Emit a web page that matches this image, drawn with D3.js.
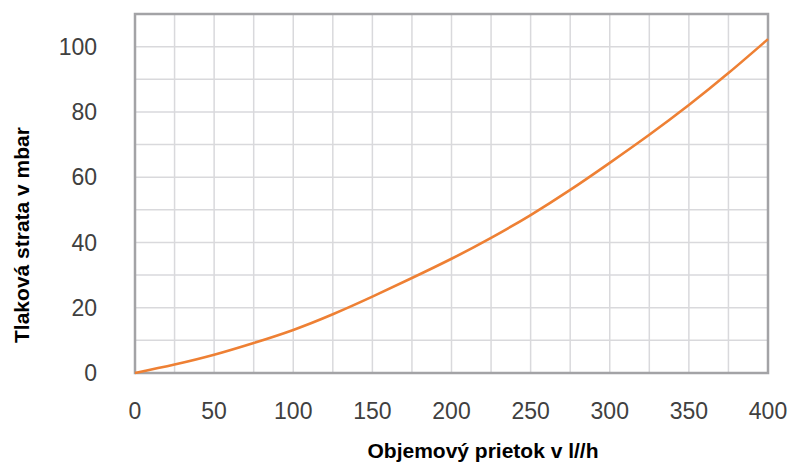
<!DOCTYPE html>
<html>
<head>
<meta charset="utf-8">
<script src="https://cdn.jsdelivr.net/npm/d3@7"></script>
<style>
	body { margin: 0; background: #fff; }
	svg { display: block; }
	.tick-label { font-family: "Liberation Sans", Arial, sans-serif; font-size: 23px; fill: #404040; }
	.axis-title { font-family: "Liberation Sans", Arial, sans-serif; font-size: 21px; font-weight: bold; fill: #000; }
</style>
</head>
<body>
<div id="chart"></div>
<script>
// flow (l/h) and pressure loss (mbar)
var flow = [0, 25, 50, 75, 100, 125, 150, 175, 200, 225, 250, 275, 300, 325, 350, 375, 400];
var loss = [0, 2.6, 5.6, 9.2, 13.2, 18.0, 23.4, 29.1, 35.0, 41.4, 48.4, 56.1, 64.4, 73.0, 82.1, 91.9, 102.3];
var xTicks = [0, 50, 100, 150, 200, 250, 300, 350, 400];
var yTicks = [0, 20, 40, 60, 80, 100];
var xGrid = d3.range(0, 401, 25);
var yGrid = d3.range(0, 111, 10);
var xTitle = "Objemový prietok v l//h";
var yTitle = "Tlaková strata v mbar";

var width = 793, height = 467;
var margin = {top: 14, right: 25, bottom: 94, left: 135};
var w = width - margin.left - margin.right;
var h = height - margin.top - margin.bottom;

var x = d3.scaleLinear().domain([0, 400]).range([0, w]);
var y = d3.scaleLinear().domain([0, 110]).range([h, 0]);

var svg = d3.select("#chart").append("svg")
	.attr("width", width)
	.attr("height", height);

var g = svg.append("g")
	.attr("transform", "translate(" + margin.left + "," + margin.top + ")");

// grid
g.selectAll("line.vgrid").data(xGrid).enter().append("line")
	.attr("class", "vgrid")
	.attr("x1", function(d) { return x(d); })
	.attr("x2", function(d) { return x(d); })
	.attr("y1", 0).attr("y2", h)
	.attr("stroke", "#d9d9dc").attr("stroke-width", 1.5);

g.selectAll("line.hgrid").data(yGrid).enter().append("line")
	.attr("class", "hgrid")
	.attr("x1", 0).attr("x2", w)
	.attr("y1", function(d) { return y(d); })
	.attr("y2", function(d) { return y(d); })
	.attr("stroke", "#d9d9dc").attr("stroke-width", 1.5);

// frame
g.append("rect")
	.attr("x", 0).attr("y", 0)
	.attr("width", w).attr("height", h)
	.attr("fill", "none")
	.attr("stroke", "#a3a3a6").attr("stroke-width", 2.5);

// curve
var pts = flow.map(function(f, i) { return {x: f, y: loss[i]}; });
var line = d3.line()
	.x(function(d) { return x(d.x); })
	.y(function(d) { return y(d.y); })
	.curve(d3.curveNatural);

g.append("path")
	.datum(pts)
	.attr("d", line)
	.attr("fill", "none")
	.attr("stroke", "#ee8034")
	.attr("stroke-width", 2.6);

// tick labels
g.selectAll("text.xl").data(xTicks).enter().append("text")
	.attr("class", "tick-label")
	.attr("x", function(d) { return x(d); })
	.attr("y", h + 46)
	.attr("text-anchor", "middle")
	.text(function(d) { return d; });

g.selectAll("text.yl").data(yTicks).enter().append("text")
	.attr("class", "tick-label")
	.attr("x", -38)
	.attr("y", function(d) { return y(d); })
	.attr("dy", "0.36em")
	.attr("text-anchor", "end")
	.text(function(d) { return d; });

// axis titles
svg.append("text")
	.attr("class", "axis-title")
	.attr("x", 483)
	.attr("y", 458)
	.attr("text-anchor", "middle")
	.text(xTitle);

svg.append("text")
	.attr("class", "axis-title")
	.attr("transform", "translate(29,235) rotate(-90)")
	.attr("text-anchor", "middle")
	.text(yTitle);
</script>
</body>
</html>
